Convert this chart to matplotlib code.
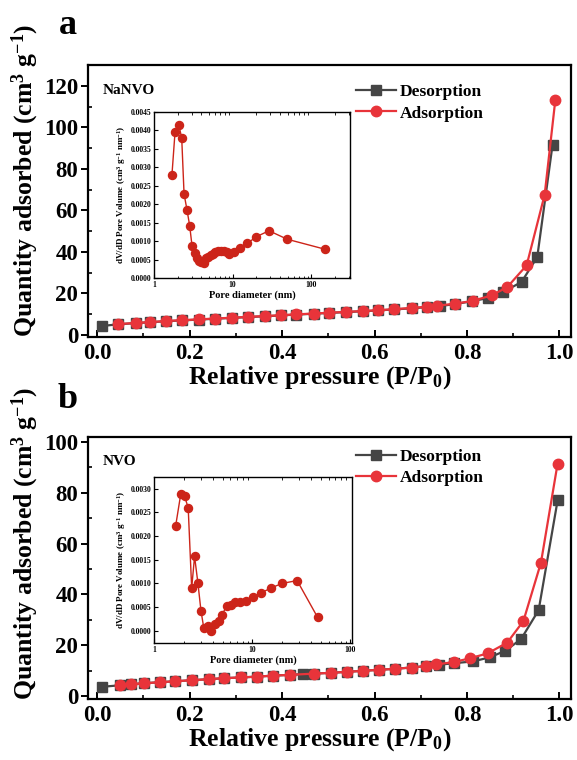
import matplotlib
matplotlib.use("Agg")
import matplotlib.pyplot as plt
from matplotlib.ticker import MultipleLocator, FixedLocator, NullFormatter
from matplotlib.font_manager import FontProperties

plt.rcParams['font.family'] = ['Liberation Serif', 'DejaVu Serif']
plt.rcParams['font.weight'] = 'bold'
plt.rcParams['mathtext.fontset'] = 'custom'
plt.rcParams['mathtext.rm'] = 'Liberation Serif:bold'
plt.rcParams['mathtext.default'] = 'rm'

# ---------------- Panel a: NaNVO ----------------
a_ads_p = [0.045, 0.084, 0.115, 0.149, 0.184, 0.221, 0.255, 0.292, 0.327, 0.364, 0.398, 0.431,
           0.468, 0.502, 0.539, 0.574, 0.608, 0.643, 0.680, 0.714, 0.736, 0.773, 0.812, 0.853,
           0.887, 0.929, 0.968, 0.991]
a_ads_q = [5.2, 5.8, 6.2, 6.7, 7.1, 7.5, 7.9, 8.3, 8.7, 9.1, 9.5, 9.9, 10.3, 10.7, 11.1, 11.5,
           11.9, 12.4, 13.0, 13.6, 14.1, 15.0, 16.4, 19.0, 23.0, 33.5, 67.5, 113.0]
a_des_p = [0.01, 0.045, 0.084, 0.115, 0.149, 0.184, 0.221, 0.255, 0.292, 0.327, 0.364, 0.398,
           0.431, 0.468, 0.502, 0.539, 0.574, 0.608, 0.643, 0.680, 0.714, 0.741, 0.773, 0.810,
           0.846, 0.877, 0.918, 0.952, 0.985]
a_des_q = [4.3, 5.1, 5.7, 6.1, 6.6, 7.0, 7.4, 7.8, 8.2, 8.6, 9.0, 9.4, 9.8, 10.2, 10.6, 11.0,
           11.4, 11.8, 12.3, 12.8, 13.4, 13.9, 14.8, 16.2, 17.8, 20.5, 25.5, 37.5, 91.5]
a_pore_d = [1.69, 1.85, 2.06, 2.25, 2.41, 2.63, 2.84, 3.04, 3.29, 3.49, 3.73, 4.0, 4.28, 4.58,
            4.91, 5.25, 5.62, 6.02, 6.51, 7.04, 7.76, 8.39, 8.98, 10.4, 12.5, 15.4, 20.0, 29.0,
            49.5, 149.0]
a_pore_v = [0.00279, 0.00395, 0.00416, 0.00380, 0.00228, 0.00184, 0.00142, 0.00088, 0.00068,
            0.00055, 0.00047, 0.00044, 0.00042, 0.00055, 0.00057, 0.00062, 0.00066, 0.00071,
            0.00073, 0.00073, 0.00073, 0.00071, 0.00066, 0.00071, 0.00080, 0.00094, 0.00112,
            0.00128, 0.00105, 0.00078]

# ---------------- Panel b: NVO ----------------
b_ads_p = [0.049, 0.072, 0.101, 0.135, 0.169, 0.205, 0.241, 0.275, 0.311, 0.345, 0.380, 0.416,
           0.469, 0.505, 0.540, 0.575, 0.610, 0.644, 0.680, 0.712, 0.734, 0.772, 0.806, 0.845,
           0.887, 0.922, 0.960, 0.996]
b_ads_q = [4.3, 4.6, 5.0, 5.4, 5.8, 6.2, 6.6, 7.0, 7.3, 7.6, 8.0, 8.3, 8.8, 9.1, 9.5, 9.9,
           10.3, 10.7, 11.2, 11.8, 12.4, 13.4, 14.8, 16.8, 21.0, 29.5, 52.5, 91.5]
b_des_p = [0.01, 0.049, 0.072, 0.101, 0.135, 0.169, 0.205, 0.241, 0.275, 0.311, 0.345, 0.380,
           0.416, 0.445, 0.469, 0.505, 0.540, 0.575, 0.610, 0.644, 0.680, 0.712, 0.740, 0.772,
           0.813, 0.849, 0.883, 0.917, 0.955, 0.996]
b_des_q = [3.6, 4.2, 4.6, 5.0, 5.4, 5.8, 6.2, 6.6, 7.0, 7.3, 7.6, 8.0, 8.3, 8.6, 8.8, 9.1,
           9.5, 9.9, 10.3, 10.7, 11.2, 11.8, 12.3, 12.9, 13.6, 15.2, 17.8, 22.4, 33.8, 77.0]
b_pore_d = [1.66, 1.87, 2.05, 2.23, 2.42, 2.59, 2.80, 3.01, 3.22, 3.54, 3.83, 4.14, 4.55, 4.95,
            5.48, 6.02, 6.72, 7.55, 8.69, 10.3, 12.4, 15.4, 20.2, 28.7, 46.5]
b_pore_v = [0.00221, 0.00288, 0.00284, 0.00260, 0.00090, 0.00157, 0.00101, 0.00042, 0.00005,
            0.00010, 0.00000, 0.00014, 0.00021, 0.00034, 0.00052, 0.00055, 0.00060, 0.00060,
            0.00062, 0.00071, 0.00080, 0.00090, 0.00100, 0.00106, 0.00028]

main_ticks = [0.0, 0.2, 0.4, 0.6, 0.8, 1.0]

RED = '#e8343a'
GRAY = '#454545'
IRED = '#cc2419'

fig = plt.figure(figsize=(5.77, 7.60), dpi=100)


def main_panel(rect, des_p, des_q, ads_p, ads_q, ylim, ystep, name, letter, letter_y,
               leg_y, ylab_y):
    ax = fig.add_axes(rect)
    ax.plot(des_p, des_q, '-s', color=GRAY, mfc=GRAY, mec=GRAY, ms=6.5, lw=1.6,
            label='Desorption', zorder=3)
    ax.plot(ads_p, ads_q, '-o', color=RED, mfc=RED, mec=RED, ms=7.5, lw=1.6,
            label='Adsorption', zorder=4)
    ax.set_xlim(-0.02, 1.025)
    ax.set_ylim(*ylim)
    ax.xaxis.set_major_locator(FixedLocator(main_ticks))
    ax.xaxis.set_minor_locator(MultipleLocator(0.1))
    ax.yaxis.set_major_locator(MultipleLocator(ystep))
    ax.yaxis.set_minor_locator(MultipleLocator(ystep / 2))
    ax.tick_params(axis='x', which='major', direction='in', length=5, width=1.4,
                   labelsize=16.5, pad=4)
    ax.tick_params(axis='x', which='minor', direction='in', length=3, width=1.2)
    ax.tick_params(axis='y', which='major', direction='out', length=5, width=1.4,
                   labelsize=16.5, pad=2)
    ax.tick_params(axis='y', which='minor', direction='in', length=3, width=1.2)
    ax.set_xticklabels(['%.1f' % t for t in main_ticks])
    for s in ax.spines.values():
        s.set_linewidth(1.6)
    ax.set_xlabel(r'Relative pressure (P/P$\mathregular{_0}$)', fontsize=18.5,
                  fontweight='bold', labelpad=1)
    ax.set_ylabel(r'Quantity adsorbed (cm$\mathregular{^3}$ g$\mathregular{^{-1}}$)',
                  fontsize=18.5, fontweight='bold', labelpad=1)
    ax.xaxis.set_label_coords(0.48, -0.1 * (272.0 / (rect[3] * 760.0)))
    ax.yaxis.set_label_coords(-0.098, ylab_y)
    ax.text(0.03, 0.93, name, transform=ax.transAxes, fontsize=11, fontweight='bold',
            va='top', ha='left')
    fp = FontProperties(family='Liberation Serif', weight='bold', size=12.5)
    ax.legend(loc='upper left', bbox_to_anchor=(0.555, leg_y), frameon=False,
              prop=fp, handlelength=2.3, handletextpad=0.2, borderaxespad=0.0,
              borderpad=0.0, labelspacing=0.3)
    fig.text(0.118, letter_y, letter, fontsize=26, fontweight='bold', ha='center',
             va='center')
    return ax


def inset(rect, d, v, xlim, ylim, yticks, yfmt):
    ax = fig.add_axes(rect)
    ax.plot(d, v, '-o', color=IRED, mfc=IRED, mec=IRED, ms=5.8, lw=1.0)
    ax.set_xscale('log')
    ax.set_xlim(*xlim)
    ax.set_ylim(*ylim)
    ax.xaxis.set_major_locator(FixedLocator([1, 10, 100]))
    ax.xaxis.set_minor_formatter(NullFormatter())
    ax.set_xticklabels(['1', '10', '100'])
    ax.yaxis.set_major_locator(FixedLocator(yticks))
    ax.set_yticklabels([yfmt % t for t in yticks])
    ax.tick_params(axis='both', which='major', direction='in', length=3, width=0.8,
                   labelsize=5.5, pad=2, top=False, right=False)
    ax.tick_params(axis='x', which='minor', direction='in', length=1.8, width=0.6,
                   top=True)
    for s in ax.spines.values():
        s.set_linewidth(1.0)
    ax.set_xlabel('Pore diameter (nm)', fontsize=7.5, fontweight='bold', labelpad=1.5)
    ax.set_ylabel(r'dV/dD Pore Volume (cm$\mathregular{^3}$ g$\mathregular{^{-1}}$ '
                  r'nm$\mathregular{^{-1}}$)', fontsize=6.5, fontweight='bold', labelpad=1.5)
    return ax


W, H = 577.0, 760.0
ax_a = main_panel([88 / W, 1 - 337 / H, (571 - 88) / W, (337 - 65) / H],
                  a_des_p, a_des_q, a_ads_p, a_ads_q, (-1, 130), 20, 'NaNVO', 'a',
                  1 - 25 / H, 0.93, 0.575)
ax_b = main_panel([88 / W, 1 - 699 / H, (571 - 88) / W, (699 - 437) / H],
                  b_des_p, b_des_q, b_ads_p, b_ads_q, (-1.2, 102), 20, 'NVO', 'b',
                  1 - 400 / H, 0.955, 0.595)

yt_a = [i * 0.0005 for i in range(10)]
inset([154 / W, 1 - 278 / H, (350 - 154) / W, (278 - 112) / H], a_pore_d, a_pore_v,
      (1, 310), (0, 0.0045), yt_a, '%.4f')
yt_b = [i * 0.0005 for i in range(7)]
inset([154 / W, 1 - 643 / H, (352 - 154) / W, (643 - 477) / H], b_pore_d, b_pore_v,
      (1, 104), (-0.00026, 0.00325), yt_b, '%.4f')

fig.savefig('out.png', dpi=100)
